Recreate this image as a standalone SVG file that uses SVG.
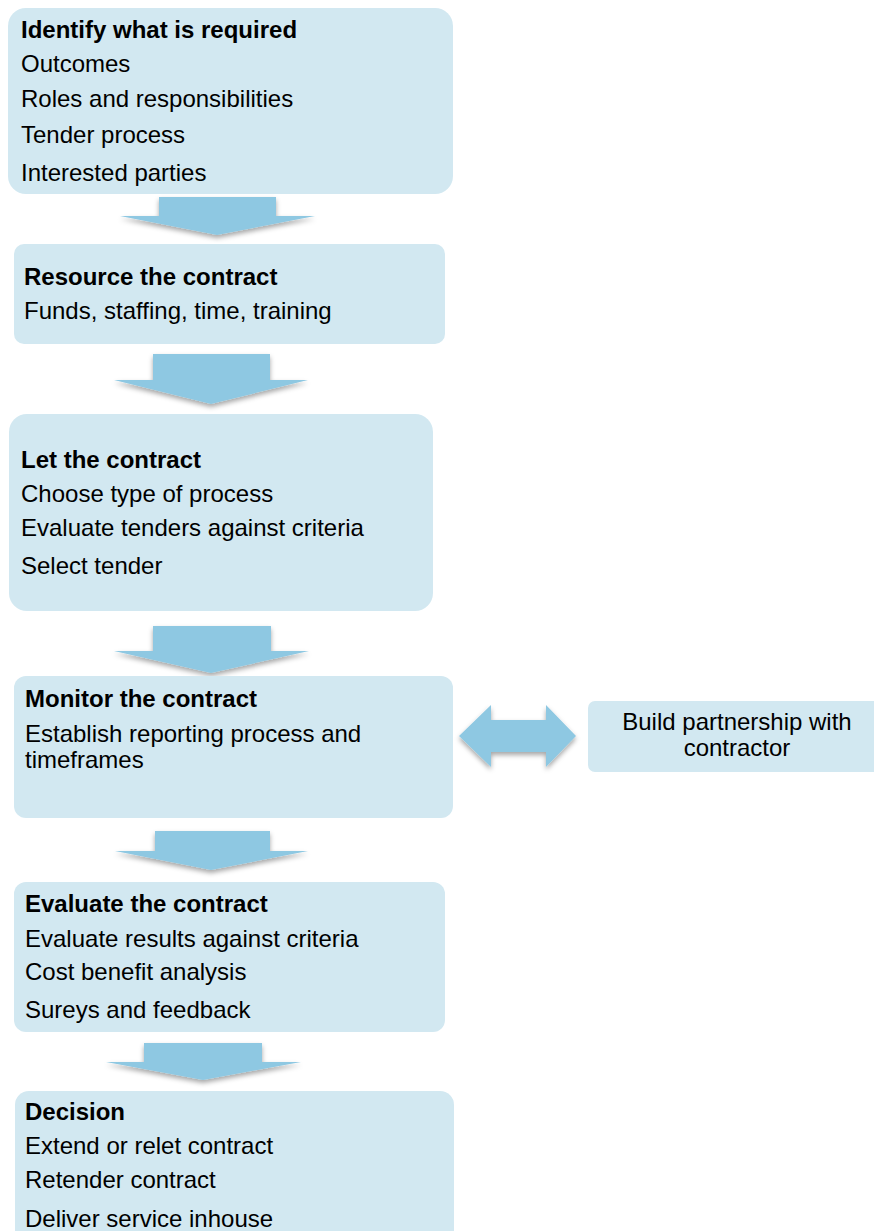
<svg xmlns="http://www.w3.org/2000/svg" width="874" height="1231" viewBox="0 0 874 1231">
<style>
.box{fill:#d2e8f1;}
.arr{fill:#8ec8e2;filter:url(#sh);}
text{font-family:"Liberation Sans",Arial,sans-serif;font-size:24px;fill:#000;}
.b{font-weight:bold;}
.c{text-anchor:middle;}
</style>
<defs>
<filter id="sh" x="-10%" y="-10%" width="120%" height="140%">
<feDropShadow dx="0" dy="3" stdDeviation="2.5" flood-color="#000" flood-opacity="0.35"/>
</filter>
</defs>
<rect width="874" height="1231" fill="#fff"/>
<g id="connectors">
<polygon class="arr" points="159,197 276,197 276,216 315,216 217,235 120,216 159,216"/>
<polygon class="arr" points="153,354 270,354 270,380 308,380 211,404 114,380 153,380"/>
<polygon class="arr" points="153,626 271,626 271,651 309,651 211,673 114,651 153,651"/>
<polygon class="arr" points="155,831 270,831 270,851 308,851 211,870 115,851 155,851"/>
<polygon class="arr" points="144,1043 262,1043 262,1062 301,1062 203,1080 106,1062 144,1062"/>
<polygon class="arr" points="459,736 491,705 491,720 546,720 546,705 576,736 546,767 546,752 491,752 491,767"/>
</g>
<g id="n1">
<rect class="box" x="8" y="8" width="445" height="186" rx="18"/>
<text class="b" x="21" y="38">Identify what is required</text>
<text x="21" y="72">Outcomes</text>
<text x="21" y="107">Roles and responsibilities</text>
<text x="21" y="143">Tender process</text>
<text x="21" y="181">Interested parties</text>
</g>
<g id="n2">
<rect class="box" x="14" y="244" width="431" height="100" rx="10"/>
<text class="b" x="24" y="285">Resource the contract</text>
<text x="24" y="319">Funds, staffing, time, training</text>
</g>
<g id="n3">
<rect class="box" x="9" y="414" width="424" height="197" rx="18"/>
<text class="b" x="21" y="468">Let the contract</text>
<text x="21" y="502">Choose type of process</text>
<text x="21" y="536">Evaluate tenders against criteria</text>
<text x="21" y="574">Select tender</text>
</g>
<g id="n4">
<rect class="box" x="14" y="676" width="439" height="142" rx="12"/>
<text class="b" x="25" y="707">Monitor the contract</text>
<text x="25" y="742">Establish reporting process and</text>
<text x="25" y="768">timeframes</text>
</g>
<g id="n5">
<rect class="box" x="588" y="701" width="298" height="71" rx="7"/>
<text class="c" x="737" y="730">Build partnership with</text>
<text class="c" x="737" y="756">contractor</text>
</g>
<g id="n6">
<rect class="box" x="14" y="882" width="431" height="150" rx="12"/>
<text class="b" x="25" y="912">Evaluate the contract</text>
<text x="25" y="947">Evaluate results against criteria</text>
<text x="25" y="980">Cost benefit analysis</text>
<text x="25" y="1018">Sureys and feedback</text>
</g>
<g id="n7">
<rect class="box" x="15" y="1091" width="439" height="170" rx="14"/>
<text class="b" x="25" y="1120">Decision</text>
<text x="25" y="1154">Extend or relet contract</text>
<text x="25" y="1188">Retender contract</text>
<text x="25" y="1227">Deliver service inhouse</text>
</g>
</svg>
